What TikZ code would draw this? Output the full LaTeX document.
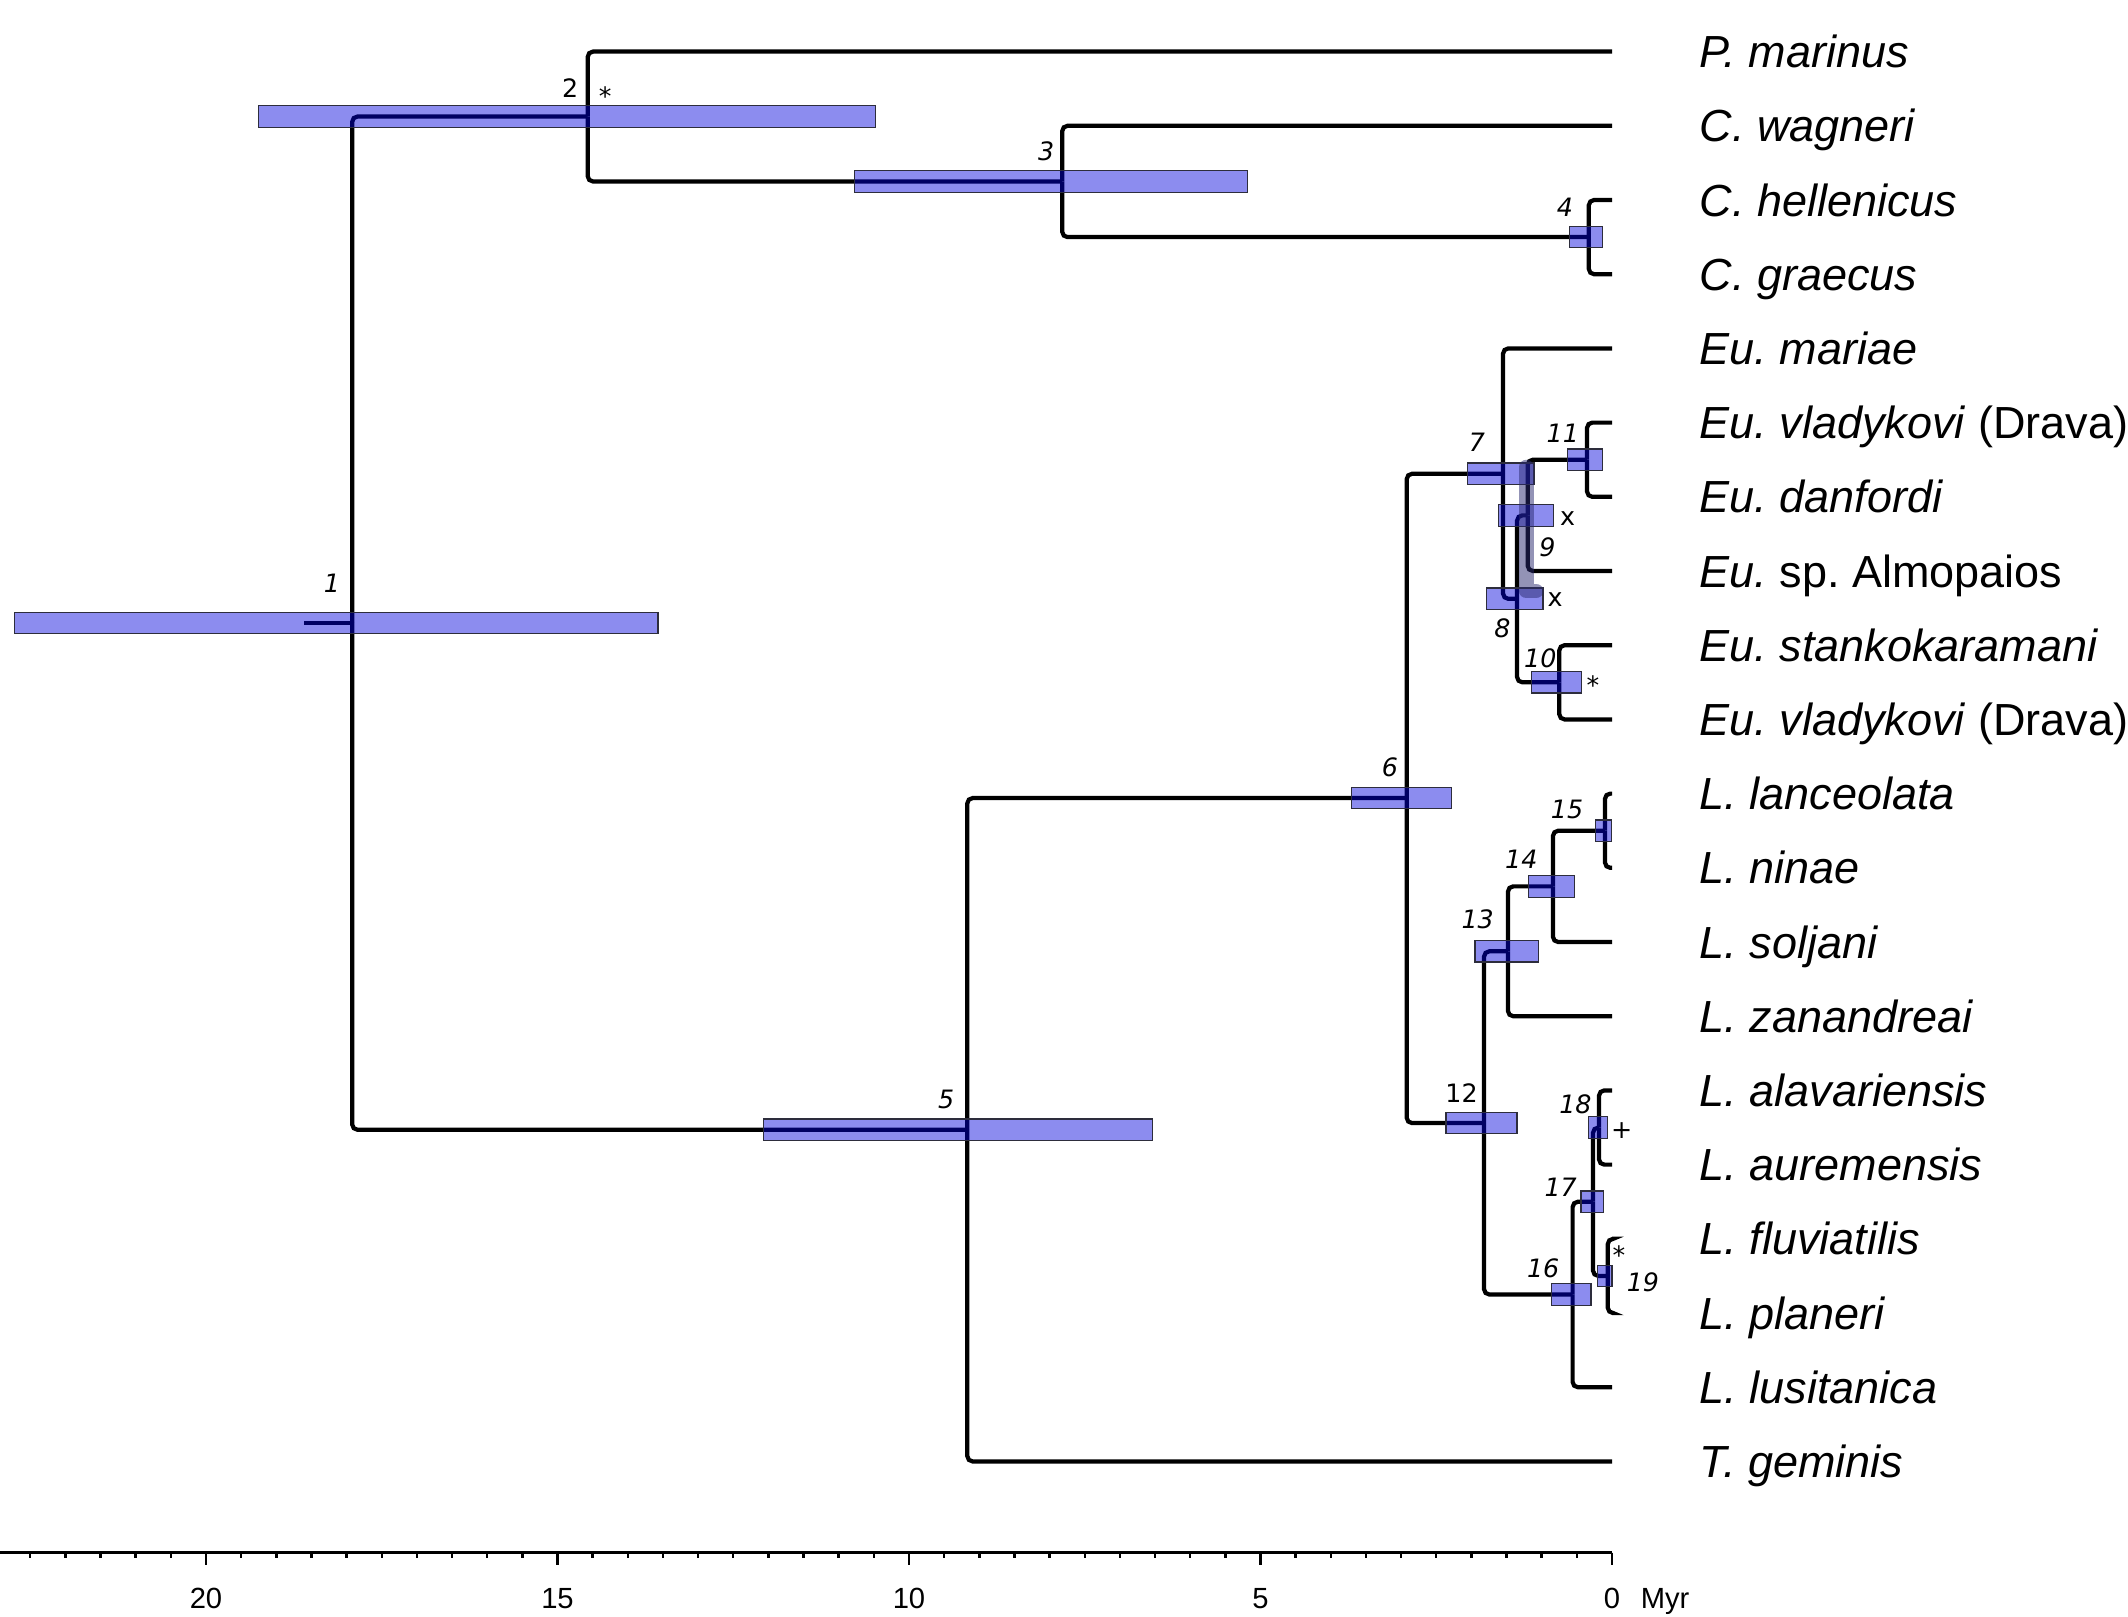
\documentclass[tikz,border=0pt]{standalone}
\usepackage{fontspec}
\setmainfont{Liberation Sans}
\newfontfamily\labfont{DejaVu Sans}
\usetikzlibrary{positioning,calc}
\frenchspacing

\definecolor{hpdblue}{RGB}{0,0,220}
\definecolor{hpdedge}{RGB}{45,45,60}
\definecolor{ghostgrey}{RGB}{40,40,110}

\tikzset{
  branch/.style={line width=1.2pt, rounded corners=1.5pt},
  hpd/.style={fill=hpdblue, fill opacity=0.45, draw=hpdedge, line width=0.35pt},
  ghost/.style={draw=ghostgrey, draw opacity=0.5, line width=4.2pt, line cap=round, line join=round},
  taxon/.style={anchor=base west, inner sep=0pt, font=\fontsize{12.8}{15}\selectfont\itshape},
  nlab/.style={inner sep=0pt, font=\labfont\fontsize{7.2}{8}\selectfont\itshape},
  flag/.style={inner sep=0pt, font=\labfont\fontsize{7.2}{8}\selectfont},
  axisline/.style={line width=0.7pt},
  ticklab/.style={anchor=base, inner sep=0pt, font=\fontsize{8.3}{10}\selectfont}
}

\begin{document}
\begin{tikzpicture}[x={(-0.703cm,0)}, y={(0,-0.742cm)}]
    \useasboundingbox (-16.12cm,0.516cm) rectangle (5.16cm,-15.644cm);

    % tips (age 0, one row each)
    \foreach \i in {0,...,19}
        \coordinate (t\i) at (0,\i);

    % internal nodes (age in Myr, row)
    \coordinate (n1) at (17.92,7.70);
    \coordinate (root) at (18.6,7.70);
    \coordinate (n2) at (14.57,0.875);
    \coordinate (n3) at (7.82,1.75);
    \coordinate (n4) at (0.33,2.5);
    \coordinate (n5) at (9.17,14.53);
    \coordinate (n6) at (2.92,10.06);
    \coordinate (n7) at (1.55,5.69);
    \coordinate (n8) at (1.35,7.375);
    \coordinate (n9) at (1.20,6.25);
    \coordinate (n10) at (0.75,8.5);
    \coordinate (n11) at (0.355,5.5);
    \coordinate (n12) at (1.82,14.44);
    \coordinate (n13) at (1.48,12.125);
    \coordinate (n14) at (0.84,11.25);
    \coordinate (n15) at (0.10,10.5);
    \coordinate (n16) at (0.56,16.75);
    \coordinate (n17) at (0.27,15.5);
    \coordinate (n18) at (0.185,14.5);
    \coordinate (n19) at (0.06,16.5);

    % branches
    \draw[branch] (n1) -- (root);
    \foreach \p/\c in {n1/n2, n1/n5, n2/t0, n2/n3, n3/t1, n3/n4, n4/t2, n4/t3,
                       n5/n6, n5/t19, n6/n7, n6/n12, n7/t4, n7/n8, n8/n9, n8/n10,
                       n9/n11, n9/t7, n10/t8, n10/t9, n11/t5, n11/t6,
                       n12/n13, n12/n16, n13/n14, n13/t13, n14/n15, n14/t12,
                       n15/t10, n15/t11, n16/n17, n16/t18, n17/n18, n17/n19,
                       n18/t14, n18/t15, n19/t16, n19/t17}
        \draw[branch] (\p) |- (\c);

    % 95% HPD bars
    \foreach \a/\b/\r in {22.72/13.57/7.70, 19.25/10.48/0.875, 10.77/5.19/1.75,
                          0.61/0.14/2.5, 12.07/6.54/14.53, 3.71/2.28/10.06,
                          2.06/1.11/5.69, 1.78/0.98/7.375, 1.62/0.83/6.25,
                          1.14/0.43/8.5, 0.63/0.13/5.5, 2.36/1.35/14.44,
                          1.95/1.05/12.125, 1.19/0.53/11.25, 0.23/0.01/10.5,
                          0.86/0.30/16.75, 0.44/0.12/15.5, 0.33/0.06/14.5,
                          0.21/0.0/16.5}
        \draw[hpd] (\a,\r-0.145) rectangle (\b,\r+0.145);

    % grey band near nodes 8 and 9
    \draw[ghost] (1.22,5.6) -- (1.22,7.27) -- (1.08,7.27);

    % node numbers
    \foreach \n/\t/\r in {1/18.21/7.17, 3/8.05/1.35, 4/0.67/2.10, 5/9.47/14.12,
                          6/3.16/9.64, 7/1.92/5.26, 8/1.56/7.77, 9/0.92/6.68,
                          10/1.02/8.17, 11/0.70/5.15, 13/1.91/11.70, 14/1.29/10.88,
                          15/0.64/10.22, 16/0.98/16.40, 17/0.73/15.31, 18/0.52/14.19,
                          19/-0.44/16.58}
        \node[nlab] (l\n) at (\t,\r) {\n};
    \node[flag] (l2) at (14.82,0.49) {2};
    \node[flag] (l12) at (2.14,14.03) {12};

    % support flags
    \node[flag] (s2) at (14.32,0.60) {*};
    \node[flag] (s10) at (0.27,8.54) {*};
    \node[flag] (s19) at (-0.10,16.22) {*};
    \node[flag] (x9) at (0.63,6.30) {x};
    \node[flag] (x8) at (0.81,7.38) {x};
    \node[flag] (p18) at (-0.14,14.54) {+};

    % taxon names
    \foreach \i/\name in {0/{P. marinus}, 1/{C. wagneri}, 2/{C. hellenicus},
                          3/{C. graecus}, 4/{Eu. mariae},
                          5/{Eu. vladykovi \textup{(Drava)}}, 6/{Eu. danfordi},
                          7/{Eu. \textup{sp. Almopaios}}, 8/{Eu. stankokaramani},
                          9/{Eu. vladykovi \textup{(Drava)}}, 10/{L. lanceolata},
                          11/{L. ninae}, 12/{L. soljani}, 13/{L. zanandreai},
                          14/{L. alavariensis}, 15/{L. auremensis},
                          16/{L. fluviatilis}, 17/{L. planeri},
                          18/{L. lusitanica}, 19/{T. geminis}}
        \node[taxon] (sp\i) at ([xshift=0.87cm,yshift=-0.16cm]t\i) {\name};

    % time axis
    \coordinate (ax0) at (0,20.23);
    \coordinate (axL) at (22.93,20.23);
    \draw[axisline] (axL) -- (ax0);
    \foreach \t in {0,0.5,...,22.5}
        \draw[axisline] (\t,20.23) -- (\t,20.30);
    \foreach \t in {0,5,10,15,20} {
        \draw[axisline] (\t,20.23) -- (\t,20.39);
        \node[ticklab] (tk\t) at (\t,20.98) {\t};
    }
    \node[ticklab, anchor=base west] (myr) at (-0.40,20.98) {Myr};
\end{tikzpicture}
\end{document}
